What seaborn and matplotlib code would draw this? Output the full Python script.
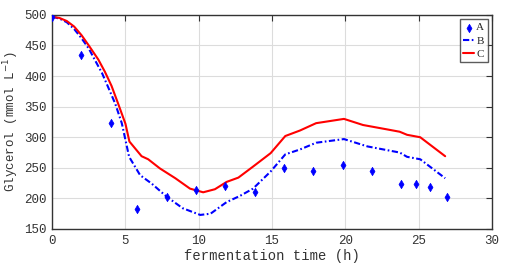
import matplotlib
matplotlib.use("Agg")
import matplotlib.pyplot as plt
import numpy as np
import pandas as pd
import seaborn as sns

# measured glycerol (A)
t_meas = [0, 2, 4, 5.8, 7.8, 9.8, 11.8, 13.8, 15.8, 17.8, 19.8, 21.8, 23.8, 24.8, 25.8, 26.9]
glyc_meas = [497, 435, 324, 183, 202, 213, 220, 210, 249, 244, 254, 244, 223, 223, 218, 203]

# model curve B (dash-dot)
t_b = [0, 0.5, 1, 1.5, 2, 2.5, 2.9, 3.4, 3.8, 4.3, 4.75, 5.25, 6.0, 6.8, 7.8, 8.9, 10.1,
       10.8, 11.9, 12.8, 13.7, 14.9, 15.9, 16.9, 18.0, 19.9, 21.5, 23.7, 24.2, 25.1, 26.8]
glyc_b = [497, 494, 488, 477, 462, 445, 427, 405, 383, 355, 323, 268, 238, 224, 203, 184, 173,
          175, 194, 204, 216, 244, 272, 280, 291, 297, 285, 275, 268, 264, 233]

# model curve C (solid)
t_c = [0, 0.5, 1, 1.5, 2, 2.5, 3.15, 3.6, 4.05, 4.5, 5.0, 5.27, 6.1, 6.55, 7.35, 8.4, 9.4,
       10.3, 11.1, 11.9, 12.7, 13.7, 14.9, 15.9, 16.9, 18.0, 19.9, 21.2, 22.8, 23.7, 24.2,
       25.1, 26.8]
glyc_c = [497, 495, 490, 481, 467, 450, 427, 407, 384, 355, 322, 293, 269, 264, 249, 233, 216,
          210, 215, 227, 234, 252, 274, 302, 311, 323, 330, 320, 313, 309, 304, 300, 269]

df_a = pd.DataFrame({"t": t_meas, "g": glyc_meas})
df_b = pd.DataFrame({"t": t_b, "g": glyc_b})
df_c = pd.DataFrame({"t": t_c, "g": glyc_c})

sns.set_theme(style="whitegrid")
plt.rcParams["font.family"] = ["Liberation Mono", "DejaVu Sans Mono"]

fig = plt.figure(figsize=(5.11, 2.71), dpi=100)
ax = fig.add_axes([0.102, 0.155, 0.861, 0.79])

sns.scatterplot(data=df_a, x="t", y="g", ax=ax, marker="d", s=18, color="#0000ff",
                edgecolor="#0000ff", linewidth=0.5, label="A", zorder=3)
sns.lineplot(data=df_b, x="t", y="g", ax=ax, color="#0000ff", linewidth=1.5,
             label="B", sort=False)
ax.lines[-1].set_dashes([3, 1.2, 0.8, 1.2])
sns.lineplot(data=df_c, x="t", y="g", ax=ax, color="#ff0000", linewidth=1.5,
             label="C", sort=False)

ax.set_xlim(0, 30)
ax.set_ylim(150, 500)
ax.set_xticks(np.arange(0, 31, 5))
ax.set_yticks(np.arange(150, 501, 50))
ax.grid(True, color="#dcdcdc", linewidth=0.8)
ax.set_facecolor("white")
for sp in ax.spines.values():
    sp.set_color("#333333")
    sp.set_linewidth(1.0)
ax.tick_params(direction="in", length=4, width=0.8, color="#333333",
               top=True, right=True, labelsize=9, labelcolor="#333333", pad=4)

ax.set_xlabel("fermentation time (h)", fontsize=10, color="#333333", labelpad=2)
ax.set_ylabel("Glycerol (mmol L$^{-1}$)", fontsize=9, color="#333333", labelpad=2)

leg = ax.legend(loc="upper right", fontsize=8, frameon=True, fancybox=False,
                edgecolor="#333333", handlelength=1.0, handletextpad=0.2,
                borderpad=0.3, labelspacing=0.3, borderaxespad=0.4,
                prop={"family": "Liberation Serif", "size": 8})
leg.get_frame().set_linewidth(1.0)

fig.savefig("out.png", dpi=100)
